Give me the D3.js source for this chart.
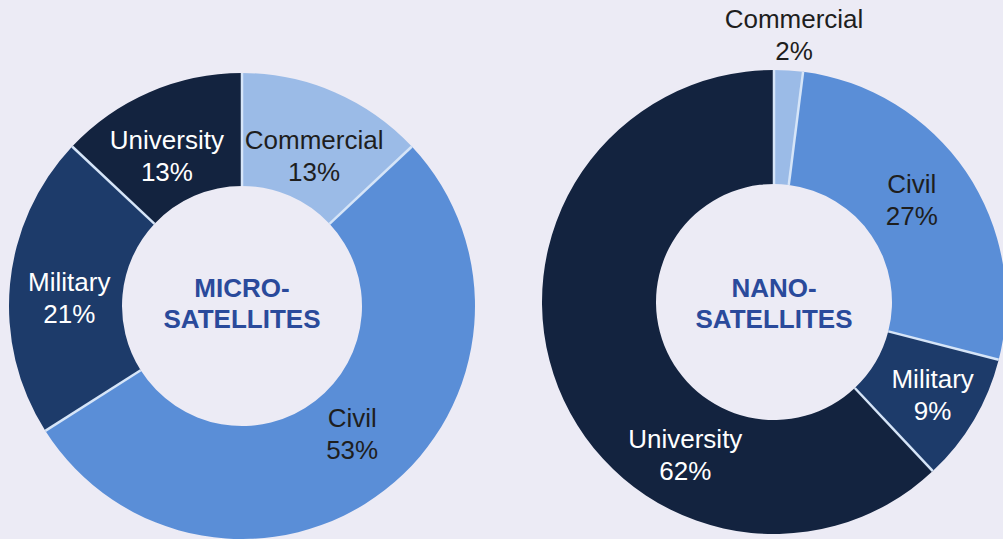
<!DOCTYPE html>
<html>
<head>
<meta charset="utf-8">
<title>Micro- and nano-satellites by operator</title>
<script src="https://d3js.org/d3.v7.min.js"></script>
<style>
  html, body { margin: 0; padding: 0; background: #ecebf5; }
  svg { display: block; }
  .lbl { font-family: "Liberation Sans", Arial, sans-serif; font-size: 26px; }
  .centre { font-family: "Liberation Sans", Arial, sans-serif; font-size: 26px; font-weight: bold; fill: #2a4a9b; }
</style>
</head>
<body>
<svg width="1003" height="539"></svg>
<script>
// data
var categories = ["Commercial", "Civil", "Military", "University"];
var microShares = [13, 53, 21, 13];
var nanoShares = [2, 27, 9, 62];
var chartTitles = [["MICRO-", "SATELLITES"], ["NANO-", "SATELLITES"]];

var colors = d3.scaleOrdinal()
    .domain(categories)
    .range(["#9bbbe7", "#5a8ed7", "#1d3b6a", "#13233f"]);

// label text is dark on the light slices, white on the dark ones
var textColor = d3.scaleOrdinal()
    .domain(categories)
    .range(["#1e1e1e", "#1e1e1e", "#ffffff", "#ffffff"]);

// layout for each donut (hand placed labels, offsets from the arc centroid)
var charts = [
  { values: microShares, title: chartTitles[0], cx: 242, cy: 306, outer: 233, inner: 120,
    nudge: [[2, 11], [2, -12], [3, 8], [-5, 11]] },
  { values: nanoShares, title: chartTitles[1], cx: 774, cy: 302, outer: 232, inner: 118,
    nudge: [[9, -93], [-7, -5], [8, 3], [74, 88]] }
];

var svg = d3.select("svg");

var pie = d3.pie().sort(null).value(function(d) { return d.value; });

charts.forEach(function(c) {
  var rows = categories.map(function(name, i) { return { name: name, value: c.values[i] }; });
  var arcs = pie(rows);

  var arc = d3.arc().innerRadius(c.inner).outerRadius(c.outer);
  var mid = d3.arc().innerRadius((c.inner + c.outer) / 2).outerRadius((c.inner + c.outer) / 2);

  var g = svg.append("g").attr("transform", "translate(" + c.cx + "," + c.cy + ")");

  g.selectAll("path.slice")
    .data(arcs)
    .enter().append("path")
      .attr("class", "slice")
      .attr("d", arc)
      .attr("fill", function(d) { return colors(d.data.name); });

  // thin light separators between slices only (no outline on the rims)
  g.selectAll("line.sep")
    .data(arcs)
    .enter().append("line")
      .attr("class", "sep")
      .attr("x1", function(d) { return c.inner * Math.sin(d.startAngle); })
      .attr("y1", function(d) { return -c.inner * Math.cos(d.startAngle); })
      .attr("x2", function(d) { return c.outer * Math.sin(d.startAngle); })
      .attr("y2", function(d) { return -c.outer * Math.cos(d.startAngle); })
      .attr("stroke", "#d6e5f8")
      .attr("stroke-width", 2.5);

  var labels = g.selectAll("text.lbl")
    .data(arcs)
    .enter().append("text")
      .attr("class", "lbl")
      .attr("text-anchor", "middle")
      .attr("fill", function(d) { return textColor(d.data.name); })
      .attr("transform", function(d, i) {
        var p = mid.centroid(d);
        return "translate(" + (p[0] + c.nudge[i][0]) + "," + (p[1] + c.nudge[i][1]) + ")";
      });

  labels.append("tspan").attr("x", 0).attr("y", -6).text(function(d) { return d.data.name; });
  labels.append("tspan").attr("x", 0).attr("y", 26).text(function(d) { return d.data.value + "%"; });

  var t = g.append("text").attr("class", "centre").attr("text-anchor", "middle");
  t.append("tspan").attr("x", 0).attr("y", 297 - c.cy).text(c.title[0]);
  t.append("tspan").attr("x", 0).attr("y", 328 - c.cy).text(c.title[1]);
});
</script>
</body>
</html>
